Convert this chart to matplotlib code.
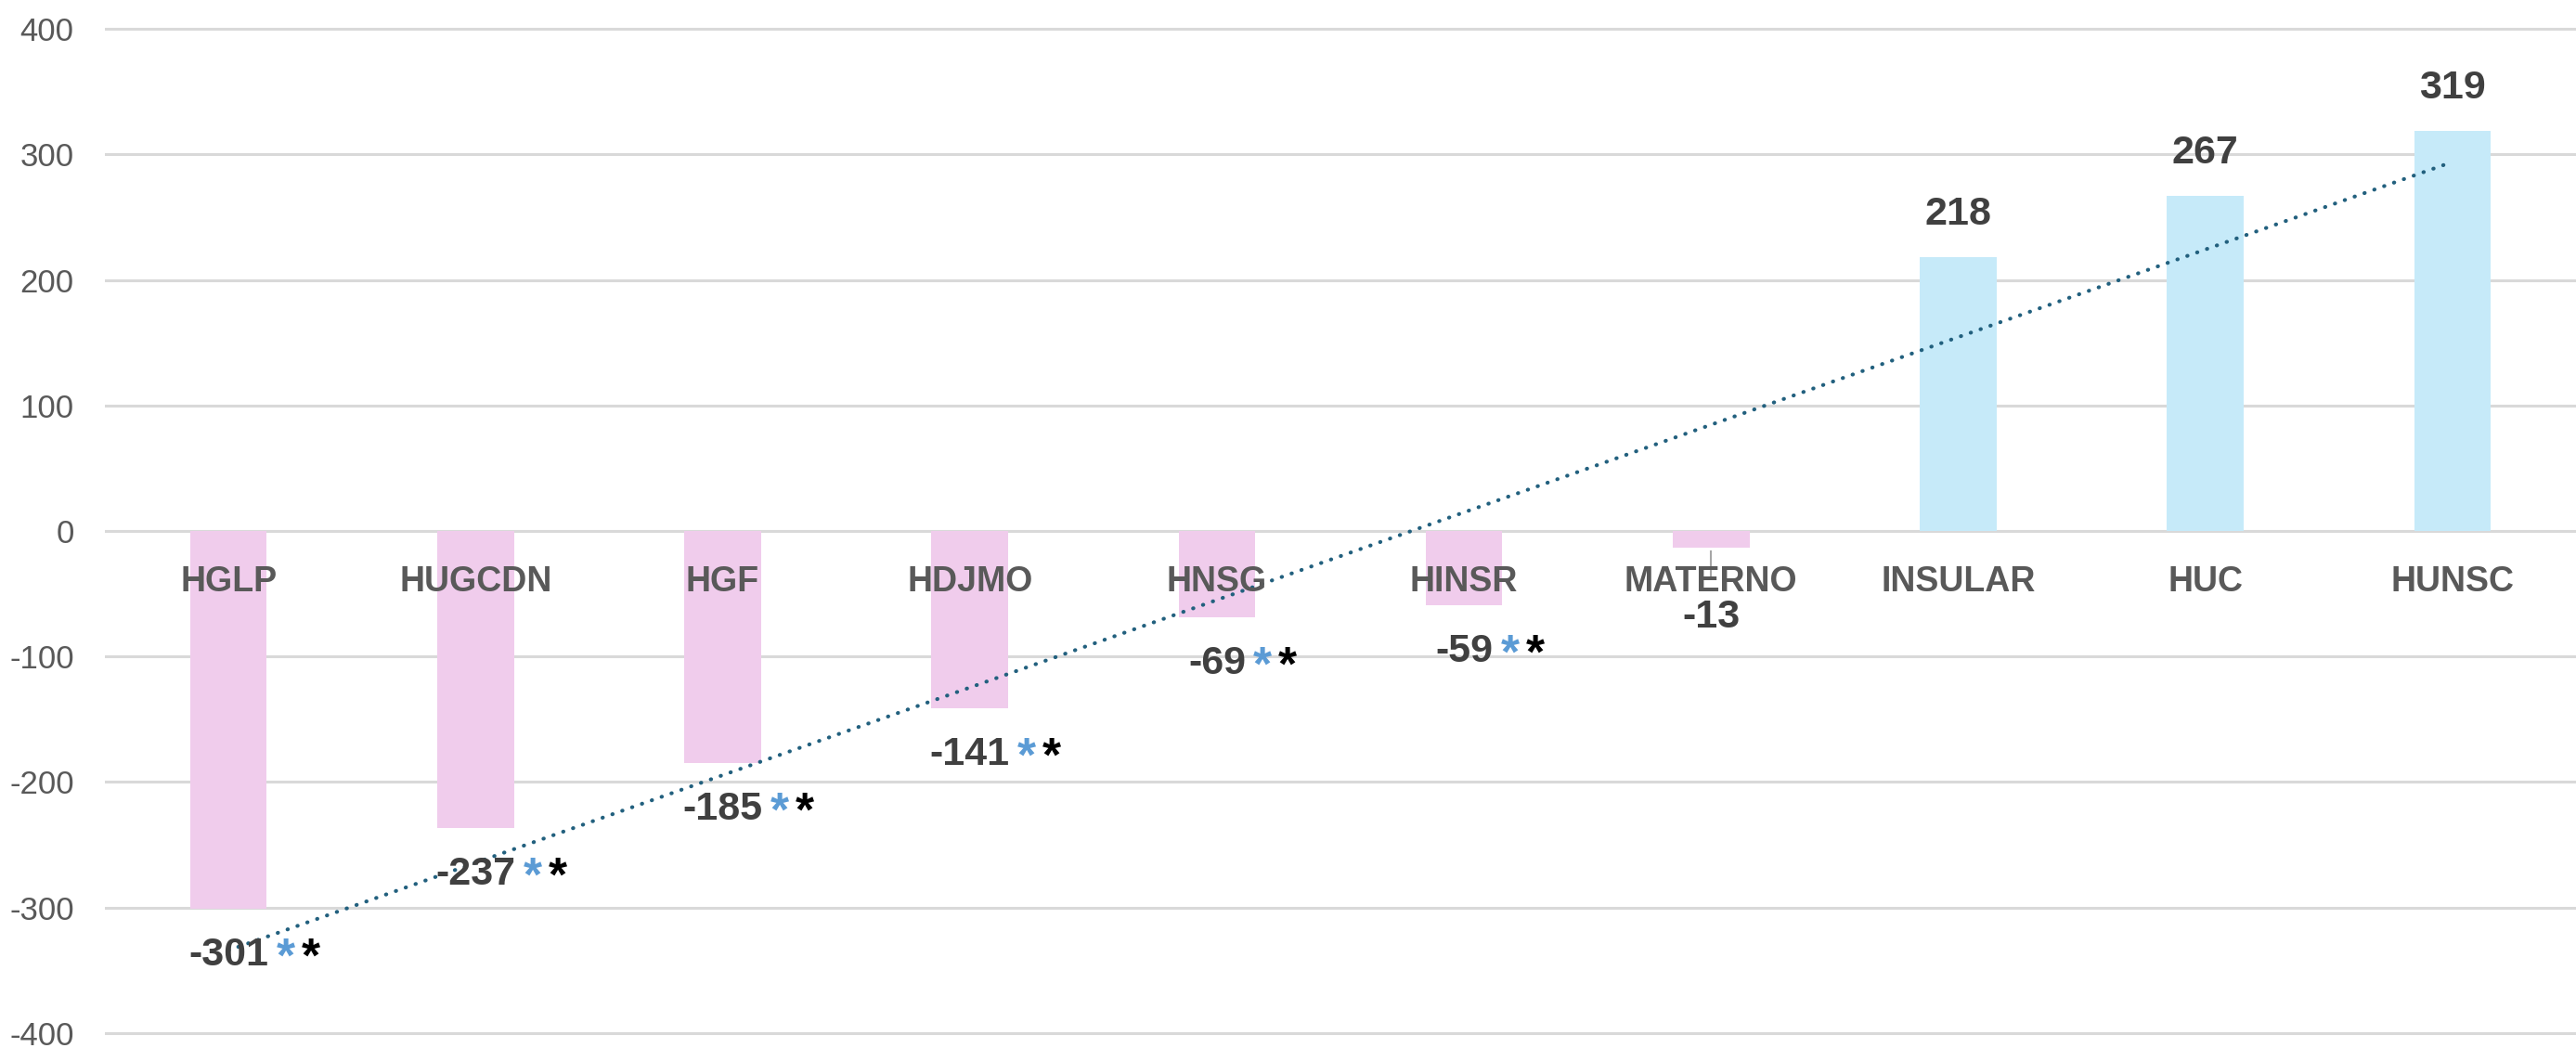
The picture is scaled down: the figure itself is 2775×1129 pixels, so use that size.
import numpy as np
import matplotlib.pyplot as plt

# data
hospitals = ['HGLP', 'HUGCDN', 'HGF', 'HDJMO', 'HNSG', 'HINSR', 'MATERNO', 'INSULAR', 'HUC', 'HUNSC']
values = [-301, -237, -185, -141, -69, -59, -13, 218, 267, 319]
significant = [True, True, True, True, True, True, False, False, False, False]
yticks = [-400, -300, -200, -100, 0, 100, 200, 300, 400]

pink = '#F0CCEC'
blue = '#C6EAF9'
star_blue = '#5B9BD5'
txt_dark = '#404040'
txt_gray = '#595959'

plt.rcParams['font.family'] = ['Liberation Sans', 'DejaVu Sans']

fig = plt.figure(figsize=(27.75, 11.29), dpi=100)
ax = fig.add_axes([113 / 2775, 0, 1 - 113 / 2775, 1])

x = np.arange(len(hospitals))
colors = [pink if v < 0 else blue for v in values]
ax.bar(x, values, width=0.31, color=colors, zorder=2)

# linear trendline
k, b = np.polyfit(x, values, 1)
ax.plot(x, k * x + b, color='#22607E', lw=3.0, dashes=(0.1, 2.6),
        dash_capstyle='round', zorder=3)

ax.set_xlim(-0.5, len(hospitals) - 0.5)
ax.set_ylim(-412, 423)
ax.set_yticks(yticks)
ax.set_yticklabels([str(t) for t in yticks], fontsize=25, color=txt_gray)
ax.tick_params(axis='y', length=0, pad=24)
ax.set_xticks([])
ax.grid(axis='y', color='#D9D9D9', lw=2.2, zorder=0)
ax.set_axisbelow(True)
for s in ax.spines.values():
    s.set_visible(False)

# category names just under the zero line
for i, name in enumerate(hospitals):
    ax.text(i, -41, name, ha='center', va='center', fontsize=27,
            fontweight='bold', color=txt_gray, zorder=4)

# value labels
for i, v in enumerate(values):
    if v >= 0:
        ax.text(i, v + 34, str(v), ha='center', va='center', fontsize=31,
                fontweight='bold', color=txt_dark, zorder=4)
        continue
    ly = min(v - 37, -69)
    t = ax.text(i, ly, str(v), ha='center', va='center', fontsize=31,
                fontweight='bold', color=txt_dark, zorder=4)
    if ly < v - 40:
        # leader line from bar end to the moved label
        ax.plot([i, i], [v - 3, -38], color='#A6A6A6', lw=1.5, zorder=1)
    if significant[i]:
        s1 = ax.annotate('*', xy=(1, 0.5), xycoords=t, xytext=(6, -3),
                         textcoords='offset points', ha='left', va='center',
                         fontsize=37, fontweight='bold', color=star_blue, zorder=4)
        ax.annotate('*', xy=(1, 0.5), xycoords=s1, xytext=(5, 0),
                    textcoords='offset points', ha='left', va='center',
                    fontsize=37, fontweight='bold', color='black', zorder=4)

fig.savefig('out.png', dpi=100)
